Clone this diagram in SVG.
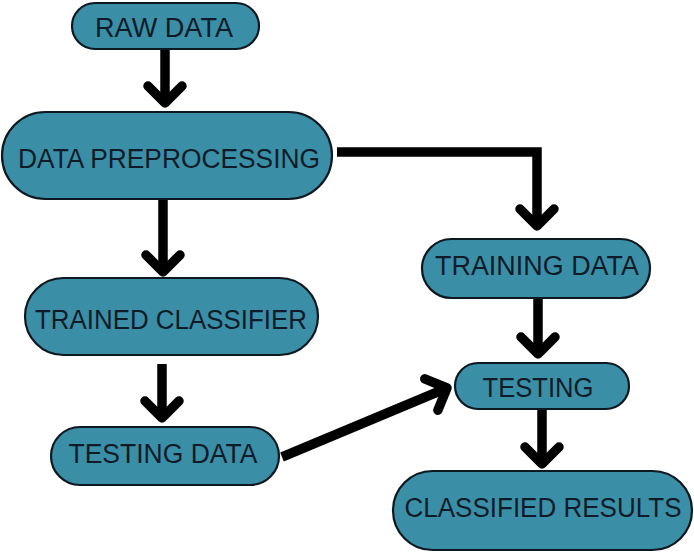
<svg xmlns="http://www.w3.org/2000/svg" width="694" height="552" viewBox="0 0 694 552">
<style>
.node rect{fill:#3a8fa7;stroke:#0e1820;stroke-width:2.2}
.node text{font-family:"Liberation Sans",Arial,sans-serif;font-size:27px;fill:#0f1b28;text-anchor:middle}
.conn path{fill:none;stroke:#000;stroke-width:9.5;stroke-linejoin:miter}
</style>
<defs>
<marker id="chev" markerUnits="userSpaceOnUse" viewBox="-30 -30 60 60" markerWidth="60" markerHeight="60" refX="0" refY="0" orient="auto" overflow="visible">
<path d="M-17,-17 L0,0 L-17,17" fill="none" stroke="#000" stroke-width="9.5" stroke-linecap="round" stroke-linejoin="round"/>
</marker>
</defs>
<rect width="694" height="552" fill="#fff"/>
<g class="conn" id="connectors">
<path d="M165,49 L165,103" marker-end="url(#chev)"/>
<path d="M337,152 L537,152 L537,226" marker-end="url(#chev)"/>
<path d="M163,199 L163,272" marker-end="url(#chev)"/>
<path d="M162,364 L162,418" marker-end="url(#chev)"/>
<path d="M538,298 L538,354" marker-end="url(#chev)"/>
<path d="M542,409 L542,464" marker-end="url(#chev)"/>
<path d="M282,457 L447,388" marker-end="url(#chev)"/>
</g>
<g class="node" id="raw-data"><rect x="72" y="3" width="187" height="46" rx="23"/><text x="164" y="37" textLength="138" lengthAdjust="spacingAndGlyphs">RAW DATA</text></g>
<g class="node" id="data-preprocessing"><rect x="2" y="112" width="330" height="87" rx="43.5"/><text x="169" y="168" textLength="302" lengthAdjust="spacingAndGlyphs">DATA PREPROCESSING</text></g>
<g class="node" id="trained-classifier"><rect x="25" y="278" width="293" height="77" rx="38.5"/><text x="171" y="329" textLength="272" lengthAdjust="spacingAndGlyphs">TRAINED CLASSIFIER</text></g>
<g class="node" id="testing-data"><rect x="51" y="427" width="228" height="58" rx="29"/><text x="163" y="463" textLength="189" lengthAdjust="spacingAndGlyphs">TESTING DATA</text></g>
<g class="node" id="training-data"><rect x="422" y="239" width="228" height="59" rx="29.5"/><text x="537" y="275" textLength="204" lengthAdjust="spacingAndGlyphs">TRAINING DATA</text></g>
<g class="node" id="testing"><rect x="455" y="363" width="174" height="46" rx="23"/><text x="538" y="397" textLength="111" lengthAdjust="spacingAndGlyphs">TESTING</text></g>
<g class="node" id="classified-results"><rect x="393" y="471" width="299" height="79" rx="39.5"/><text x="543" y="517" textLength="277" lengthAdjust="spacingAndGlyphs">CLASSIFIED RESULTS</text></g>
</svg>
